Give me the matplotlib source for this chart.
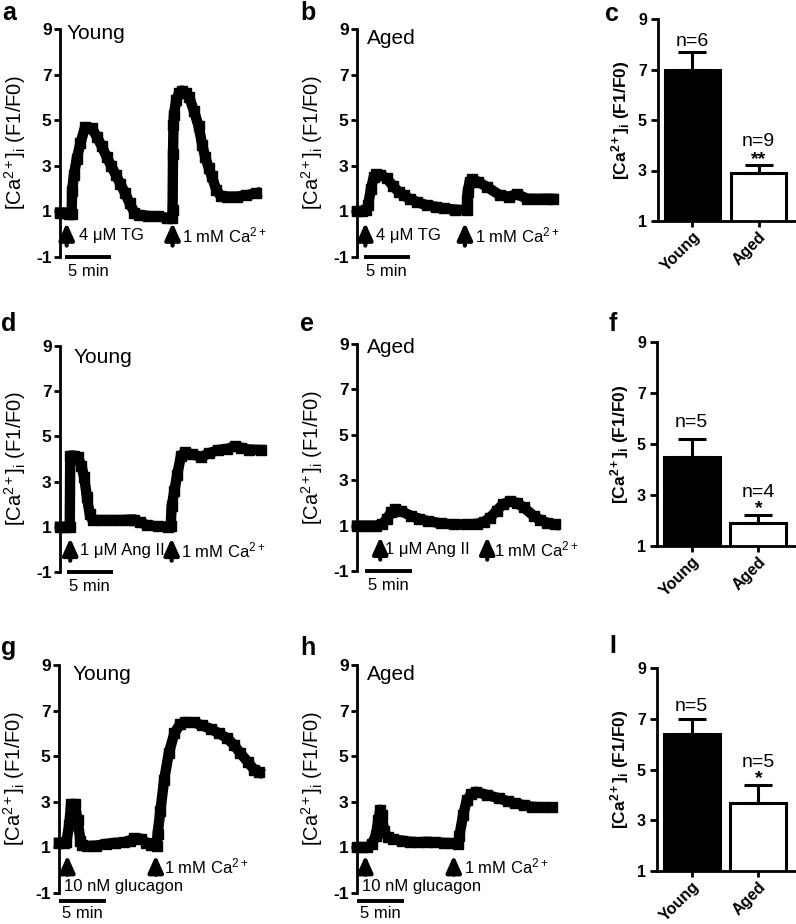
import matplotlib
matplotlib.use("Agg")
import matplotlib.pyplot as plt

plt.rcParams['font.family'] = ['Liberation Sans', 'DejaVu Sans']
plt.rcParams['mathtext.fontset'] = 'custom'
plt.rcParams['mathtext.rm'] = 'Liberation Sans'
plt.rcParams['mathtext.it'] = 'Liberation Sans:italic'
plt.rcParams['mathtext.bf'] = 'Liberation Sans:bold'
plt.rcParams['axes.unicode_minus'] = False

W, H = 796, 924

# ---- traces (time in min, ratio F1/F0) ----
t_a = [0, 0.5, 1.0, 1.25, 1.3, 1.5, 1.8, 2.2, 2.7, 3.4, 4.0, 4.5, 5.0, 5.5, 6.0, 6.5, 7.0, 7.5, 8.0, 8.5,
       9.5, 10.5, 11.5, 12.05, 12.1, 12.15, 12.2, 12.25, 12.5, 12.8, 13.1, 13.5, 13.9, 14.4, 14.9, 15.3, 15.6,
       16.0, 16.3, 16.8, 17.3, 18.0, 19.0, 20.0, 21.1]
v_a = [0.95, 0.95, 0.9, 0.9, 1.9, 2.6, 3.3, 4.0, 4.7, 4.65, 4.25, 3.85, 3.4, 3.0, 2.6, 2.2, 1.8, 1.35, 0.95, 0.85,
       0.8, 0.78, 0.72, 0.7, 1.05, 3.5, 4.8, 5.25, 5.9, 6.2, 6.3, 6.2, 6.0, 5.4, 4.74, 3.9, 3.4,
       2.9, 2.55, 1.95, 1.66, 1.65, 1.65, 1.7, 1.8]

t_b = [0, 0.5, 1.0, 1.2, 1.5, 1.8, 2.0, 2.5, 3.2, 3.9, 4.5, 5.0, 5.7, 6.5, 7.5, 8.5, 9.3, 10.5, 11.8, 11.85,
       11.9, 12.1, 12.4, 13.0, 14.0, 15.4, 16.3, 17.2, 18.3, 19.3, 20.4, 21.1]
v_b = [1.0, 1.0, 1.05, 1.3, 2.0, 2.5, 2.62, 2.6, 2.45, 2.1, 1.85, 1.7, 1.55, 1.4, 1.27, 1.2, 1.13, 1.08, 1.05, 1.5,
       1.85, 2.3, 2.42, 2.3, 2.07, 1.7, 1.65, 1.75, 1.56, 1.55, 1.56, 1.55]

t_d = [0, 0.5, 1.05, 1.1, 1.5, 1.9, 2.3, 2.6, 2.9, 3.2, 3.5, 4.5, 5.5, 6.5, 7.5, 8.0, 8.6, 9.4, 10.5, 11.6, 11.9,
       12.0, 12.3, 12.6, 13.0, 13.4, 14.2, 15.2, 16.0, 17.0, 18.0, 18.8, 19.5, 20.3, 21.6]
v_d = [1.0, 1.0, 1.0, 4.15, 4.15, 4.1, 3.7, 3.2, 2.3, 1.55, 1.3, 1.3, 1.3, 1.3, 1.32, 1.32, 1.2, 1.06, 1.02, 1.0, 1.05,
       1.9, 2.6, 3.3, 4.14, 4.3, 4.2, 4.1, 4.25, 4.4, 4.45, 4.56, 4.5, 4.42, 4.4]

t_e = [0, 1.0, 2.0, 2.7, 3.2, 3.7, 4.1, 4.7, 5.8, 6.7, 7.6, 9.0, 10.4, 11.7, 12.9, 13.6, 14.3, 15.0, 15.7, 16.5,
       17.2, 17.9, 19.0, 19.7, 20.4, 21.3]
v_e = [1.0, 1.0, 1.0, 1.05, 1.3, 1.6, 1.72, 1.65, 1.43, 1.3, 1.2, 1.1, 1.05, 1.05, 1.08, 1.15, 1.35, 1.65, 1.95, 2.07,
       2.0, 1.8, 1.43, 1.25, 1.13, 1.05]

t_g = [0, 0.5, 0.8, 1.1, 1.3, 1.7, 2.0, 2.3, 2.5, 3.0, 4.0, 5.0, 6.0, 7.0, 7.6, 8.1, 8.8, 9.4, 9.9, 10.5, 10.6,
       10.9, 11.3, 11.8, 12.4, 13.0, 13.5, 14.5, 15.4, 16.3, 17.2, 18.1, 18.8, 19.5, 20.3, 21.0, 21.5]
v_g = [1.2, 1.2, 1.25, 2.0, 2.9, 2.9, 2.2, 1.3, 1.1, 1.06, 1.08, 1.15, 1.2, 1.22, 1.3, 1.4, 1.38, 1.2, 1.1, 1.05, 1.6,
       2.6, 3.96, 5.13, 6.0, 6.4, 6.5, 6.48, 6.35, 6.2, 6.0, 5.78, 5.5, 5.13, 4.75, 4.4, 4.3]

t_h = [0, 0.5, 1.1, 1.6, 2.0, 2.3, 2.5, 2.7, 2.9, 3.3, 3.9, 4.8, 5.7, 6.6, 7.5, 8.4, 9.3, 10.1, 10.85, 11.0, 11.4,
       11.8, 12.3, 12.8, 14.0, 15.3, 16.2, 17.0, 18.0, 18.8, 20.0, 21.0]
v_h = [1.0, 1.0, 1.0, 1.15, 1.5, 2.2, 2.65, 2.4, 1.7, 1.45, 1.36, 1.3, 1.25, 1.22, 1.25, 1.22, 1.2, 1.18, 1.17, 1.5, 2.4,
       3.07, 3.35, 3.44, 3.3, 3.15, 3.02, 2.93, 2.85, 2.78, 2.76, 2.76]

# arrow times
arrows_a = [0.72, 12.1]
arrows_b = [0.9, 11.6]
arrows_d = [1.1, 12.0]
arrows_e = [2.5, 14.0]
arrows_g = [0.9, 10.4]
arrows_h = [0.9, 10.4]

ca_label = '1 mM Ca$^{2+}$'

# ---- summary bars ----
groups = ['Young', 'Aged']
mean_c = [7.0, 2.9]
sem_c = [0.68, 0.3]
n_c = ['n=6', 'n=9']
n_c_y = [8.1, 4.15]
star_c = '**'
star_c_y = 3.55
mean_f = [4.5, 1.9]
sem_f = [0.7, 0.3]
n_f = ['n=5', 'n=4']
n_f_y = [5.83, 3.08]
star_f = '*'
star_f_y = 2.55
mean_i = [6.38, 3.68]
sem_i = [0.6, 0.69]
n_i = ['n=5', 'n=5']
n_i_y = [7.5, 5.29]
star_i = '*'
star_i_y = 4.75

fig = plt.figure(figsize=(W / 100, H / 100), dpi=100)


def px_axes(left, top, right, bottom):
    return fig.add_axes([left / W, 1 - bottom / H, (right - left) / W, (bottom - top) / H])


YLAB = r'[Ca$^{2+}$]$_{\mathrm{i}}$ (F1/F0)'
YLAB_B = r'[Ca$^{\mathbf{2+}}$]$_{\mathbf{i}}$ (F1/F0)'


def draw_trace(ax, t, v, title, title_xy, arrows, drug, drug_x, ca_x, scale_x, row3=False):
    ax.set_xlim(0, 21.5)
    ax.set_ylim(-1, 9)
    ax.plot(t, v, color='k', lw=7.5, marker='s', ms=7, solid_joinstyle='round', clip_on=False)
    for s in ['top', 'right', 'bottom']:
        ax.spines[s].set_visible(False)
    ax.spines['left'].set_linewidth(2)
    ax.set_xticks([])
    ax.set_yticks([-1, 1, 3, 5, 7, 9])
    ax.tick_params(axis='y', direction='out', length=4, width=2, labelsize=12.5, pad=2)
    for lab in ax.get_yticklabels():
        lab.set_fontweight('bold')
    ax.text(-0.225, 0.5, YLAB, transform=ax.transAxes, rotation=90, ha='center', va='center', fontsize=14.5)
    ax.text(title_xy[0], title_xy[1], title, fontsize=15, ha='left', va='center')
    if row3:
        tip, base, ty = 0.65, -0.2, 0.15
    else:
        tip, base, ty = 0.5, -0.5, -0.05
    for x in arrows:
        ax.annotate('', xy=(x, tip), xytext=(x, base),
                    arrowprops=dict(arrowstyle='-|>,head_length=1.0,head_width=0.45', color='k', lw=3,
                                    shrinkA=0, shrinkB=0), annotation_clip=False)
    if row3:
        ax.text(drug_x, -0.72, drug, fontsize=12, ha='left', va='center')
        ax.text(ca_x, ty, ca_label, fontsize=12, ha='left', va='center')
        yb, ym = -1.35, -1.9
    else:
        ax.text(drug_x, ty, drug, fontsize=12, ha='left', va='center')
        ax.text(ca_x, ty, ca_label, fontsize=12, ha='left', va='center')
        yb, ym = -1.0, -1.65
    ax.plot([scale_x, scale_x + 5], [yb, yb], color='k', lw=2.8, solid_capstyle='butt', clip_on=False)
    ax.text(scale_x + 2.5, ym, '5 min', fontsize=12, ha='center', va='center')


def draw_bars(ax, means, sems, ns, n_y, star, star_y):
    ax.bar([0, 1], means, width=0.84, bottom=0, color=['black', 'white'], edgecolor='black', lw=2.2, zorder=2)
    ax.errorbar([0, 1], means, yerr=[[0, 0], sems], fmt='none', ecolor='k', elinewidth=2.2,
                capsize=10, capthick=2.2, zorder=3)
    ax.set_xlim(-0.52, 1.55)
    ax.set_ylim(1, 9)
    ax.spines['top'].set_visible(False)
    ax.spines['right'].set_visible(False)
    ax.spines['left'].set_linewidth(2)
    ax.spines['bottom'].set_linewidth(2)
    ax.set_yticks([1, 3, 5, 7, 9])
    ax.set_xticks([0, 1])
    ax.set_xticklabels(groups, rotation=45, ha='right', rotation_mode='anchor', fontsize=11, fontweight='bold')
    ax.tick_params(direction='out', length=5, width=2, labelsize=11.5, pad=3)
    ax.tick_params(axis='x', length=4, pad=2)
    for lab in ax.get_yticklabels():
        lab.set_fontweight('bold')
    ax.text(-0.27, 0.5, YLAB_B, transform=ax.transAxes, rotation=90, ha='center', va='center',
            fontsize=12.5, fontweight='bold')
    for i in range(2):
        ax.text(i, n_y[i], ns[i], ha='center', va='center', fontsize=14)
    ax.text(1, star_y - 0.1, star, ha='center', va='center', fontsize=14, fontweight='bold')


# row 1
ax_a = px_axes(60, 29, 260, 257)
draw_trace(ax_a, t_a, v_a, 'Young', (0.7, 8.8), arrows_a, '4 \u03bcM TG', 2.0, 13.1, 0.5)
ax_b = px_axes(357, 29, 557, 257)
draw_trace(ax_b, t_b, v_b, 'Aged', (1.1, 8.6), arrows_b, '4 \u03bcM TG', 2.0, 12.7, 0.7)
ax_c = px_axes(658, 19, 795, 221)
draw_bars(ax_c, mean_c, sem_c, n_c, n_c_y, star_c, star_c_y)

# row 2
ax_d = px_axes(60, 346, 260, 572)
draw_trace(ax_d, t_d, v_d, 'Young', (1.4, 8.5), arrows_d, '1 \u03bcM Ang II', 2.2, 13.0, 0.7)
ax_e = px_axes(357, 344, 557, 571)
draw_trace(ax_e, t_e, v_e, 'Aged', (1.1, 8.85), arrows_e, '1 \u03bcM Ang II', 3.0, 14.7, 0.9)
ax_f = px_axes(657, 342, 795, 546)
draw_bars(ax_f, mean_f, sem_f, n_f, n_f_y, star_f, star_f_y)

# row 3
ax_g = px_axes(59, 665, 259, 893)
draw_trace(ax_g, t_g, v_g, 'Young', (1.5, 8.6), arrows_g, '10 nM glucagon', 0.5, 11.3, 0.0, row3=True)
ax_h = px_axes(357, 665, 557, 893)
draw_trace(ax_h, t_h, v_h, 'Aged', (1.1, 8.6), arrows_h, '10 nM glucagon', 0.5, 11.5, 0.0, row3=True)
ax_i = px_axes(657, 668, 795, 871)
draw_bars(ax_i, mean_i, sem_i, n_i, n_i_y, star_i, star_i_y)

# panel letters (x px, baseline px)
letters = [('a', 2, 20), ('b', 300, 20), ('c', 605, 21), ('d', 1, 331), ('e', 300, 331), ('f', 609, 331),
           ('g', 1, 655), ('h', 300, 655), ('I', 609, 653)]
for s, x, y in letters:
    fig.text(x / W, 1 - y / H, s, fontsize=18, fontweight='bold', ha='left', va='baseline')

fig.savefig('out.png', dpi=100)
